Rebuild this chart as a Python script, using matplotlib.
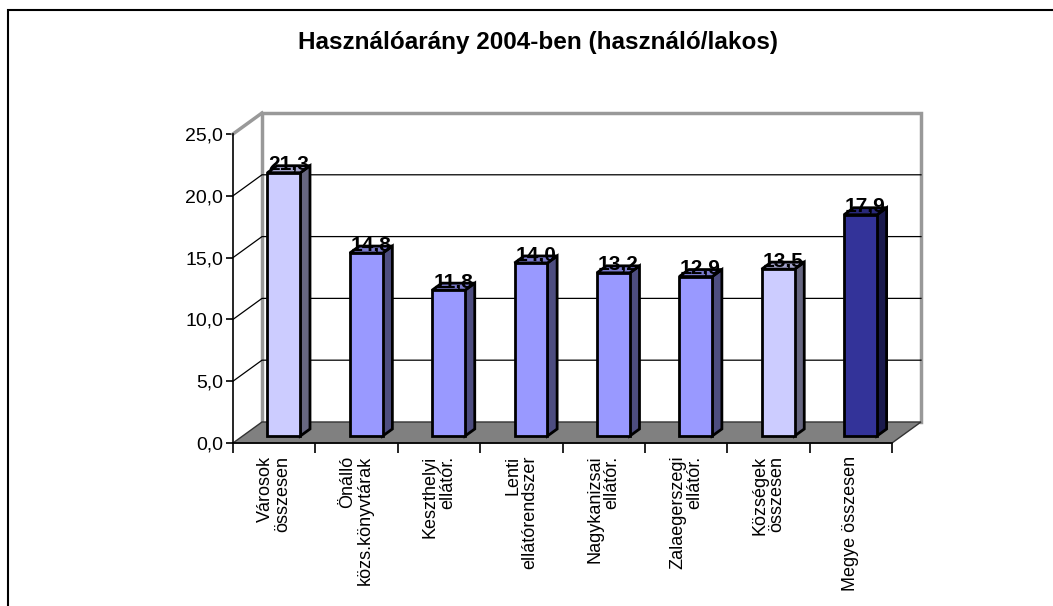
import matplotlib
matplotlib.use('Agg')
import matplotlib.pyplot as plt
from matplotlib.patches import Polygon, Rectangle
from matplotlib.ticker import FuncFormatter

plt.rcParams['font.family'] = ['Liberation Sans', 'DejaVu Sans']

categories = ['Városok\nösszesen', 'Önálló\nközs.könyvtárak', 'Keszthelyi\nellátór.',
              'Lenti\nellátórendszer', 'Nagykanizsai\nellátór.', 'Zalaegerszegi\nellátór.',
              'Községek\nösszesen', 'Megye összesen']
values = [21.3, 14.8, 11.8, 14.0, 13.2, 12.9, 13.5, 17.9]
groups = ['light', 'mid', 'mid', 'mid', 'mid', 'mid', 'light', 'dark']
title = 'Használóarány 2004-ben (használó/lakos)'
y_ticks = [0, 5, 10, 15, 20, 25]

# front / top / side shades per bar group
palette = {
    'light': ('#CCCCFF', '#A3A3CC', '#666680'),
    'mid': ('#9999FF', '#7A7ACC', '#4D4D80'),
    'dark': ('#333399', '#29297A', '#1A1A4D'),
}

# depth offset of the 3D box, in data units
DX = 0.352
DY = 1.70
BAR_W = 0.4

fig = plt.figure(figsize=(10.53, 6.06), dpi=100)
ax = fig.add_axes([233 / 1053, 163 / 606, 659 / 1053, 309 / 606])
n = len(categories)
ymax = y_ticks[-1]
ax.set_xlim(0, n)
ax.set_ylim(0, ymax)

# outer chart frame (runs past the right and bottom edge)
fig.patches.append(Rectangle((8 / 1053, -0.2), 1.2, 1.2 - 10 / 606, transform=fig.transFigure,
                             fill=False, edgecolor='black', linewidth=1.5, zorder=0))

# walls
back = Polygon([(DX, DY), (n + DX, DY), (n + DX, ymax + DY), (DX, ymax + DY)],
               closed=True, facecolor='white', edgecolor='none', zorder=1, clip_on=False)
ax.add_patch(back)
ax.plot([DX, DX, n + DX, n + DX], [DY, ymax + DY, ymax + DY, DY], color='#999999',
        linewidth=2.5, zorder=2, clip_on=False, solid_joinstyle='miter')
ax.plot([0, DX], [ymax, ymax + DY], color='#999999', linewidth=2.5, zorder=2, clip_on=False)

for v in y_ticks[1:-1]:
    ax.plot([0, DX, n + DX], [v, v + DY, v + DY], color='black', linewidth=0.9,
            zorder=2, clip_on=False)

# floor
floor = Polygon([(0, 0), (n, 0), (n + DX, DY), (DX, DY)], closed=True,
                facecolor='#808080', edgecolor='#333333', linewidth=1, zorder=3, clip_on=False)
ax.add_patch(floor)

# bars sit in the middle third of the depth
for i, (v, g) in enumerate(zip(values, groups)):
    front_c, top_c, side_c = palette[g]
    x0 = i + 0.5 - BAR_W / 2 + DX / 3
    x1 = x0 + BAR_W
    y0 = DY / 3
    y1 = v + DY / 3
    ex, ey = DX / 3, DY / 3
    kw = dict(closed=True, edgecolor='black', linewidth=2.0, zorder=4 + i * 0.01,
              clip_on=False, joinstyle='miter')
    ax.add_patch(Polygon([(x1, y0), (x1 + ex, y0 + ey), (x1 + ex, y1 + ey), (x1, y1)],
                         facecolor=side_c, **kw))
    ax.add_patch(Polygon([(x0, y1), (x1, y1), (x1 + ex, y1 + ey), (x0 + ex, y1 + ey)],
                         facecolor=top_c, **kw))
    ax.add_patch(Polygon([(x0, y0), (x1, y0), (x1, y1), (x0, y1)],
                         facecolor=front_c, **kw))
    ax.text(i + 0.5 + DX / 2, v + DY * 0.45, f'{v:.1f}'.replace('.', ','),
            ha='center', va='baseline', fontsize=15, fontweight='bold', zorder=6)

# axes
for s in ['top', 'right']:
    ax.spines[s].set_visible(False)
ax.spines['left'].set_linewidth(1.2)
ax.spines['bottom'].set_linewidth(1.2)
ax.spines['left'].set_zorder(5)
ax.spines['bottom'].set_zorder(5)
ax.patch.set_visible(False)

ax.set_yticks(y_ticks)
ax.yaxis.set_major_formatter(FuncFormatter(lambda v, p: f'{v:.1f}'.replace('.', ',')))
ax.tick_params(axis='y', direction='out', length=5, width=1.2, labelsize=14, pad=2)

ax.set_xticks(range(n + 1))
ax.set_xticklabels([])
ax.tick_params(axis='x', which='major', direction='out', length=7, width=1.2)
ax.set_xticks([i + 0.5 for i in range(n)], minor=True)
ax.set_xticklabels(categories, minor=True, rotation=90, ha='center', va='top',
                   multialignment='right', fontsize=13, linespacing=1.0)
ax.tick_params(axis='x', which='minor', length=0, pad=9)

fig.text(538 / 1053, 1 - 42 / 606, title, ha='center', va='center',
         fontsize=17.5, fontweight='bold')

fig.savefig('out.png', dpi=100)
